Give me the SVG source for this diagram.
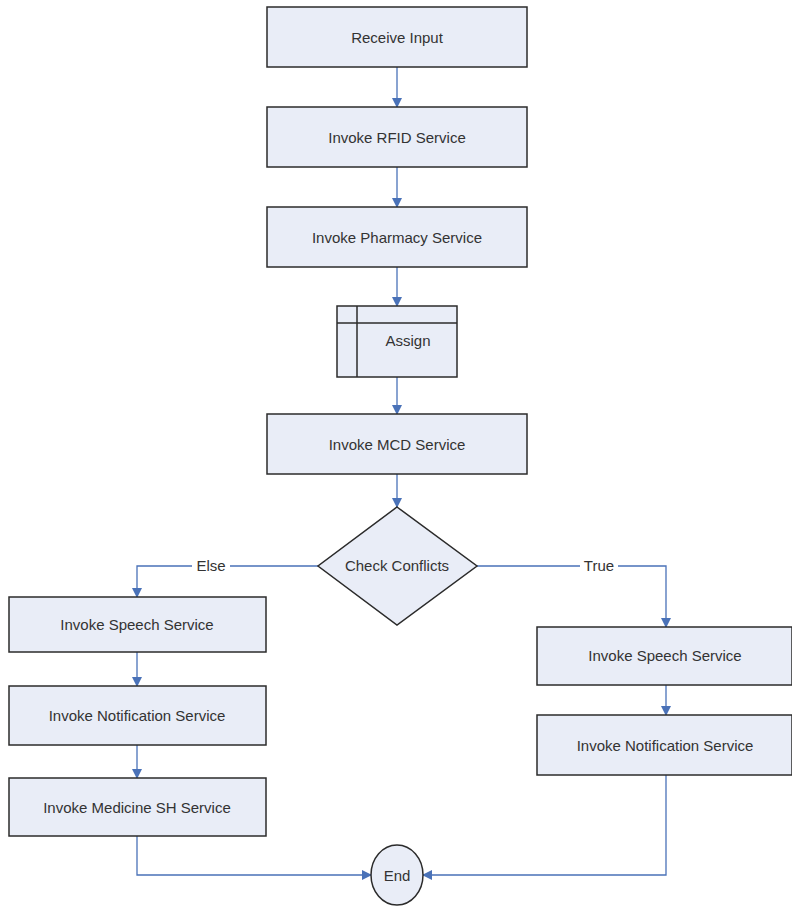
<svg xmlns="http://www.w3.org/2000/svg" width="792" height="906" viewBox="0 0 792 906">
<defs>
<marker id="ah" markerWidth="10" markerHeight="10" refX="9" refY="5" orient="auto" markerUnits="userSpaceOnUse">
<path d="M0,0 L10,5 L0,10 z" fill="#4a72b8"/>
</marker>
<style>
.box{fill:#e9edf7;stroke:#2b2b2b;stroke-width:1.5}
.t{font-family:"Liberation Sans",Arial,sans-serif;font-size:15px;fill:#333;text-anchor:middle;dominant-baseline:central}
.c{fill:none;stroke:#4a72b8;stroke-width:1.3;marker-end:url(#ah)}
.lbl{fill:#fff}
</style>
</defs>
<rect width="792" height="906" fill="#fff"/>
<g id="connectors">
<path class="c" d="M397,67 V107"/>
<path class="c" d="M397,167 V207"/>
<path class="c" d="M397,267 V306"/>
<path class="c" d="M397,377 V414"/>
<path class="c" d="M397,474 V507"/>
<path class="c" d="M318,566 H137 V597"/>
<path class="c" d="M477,566 H666 V627"/>
<path class="c" d="M137,652 V686"/>
<path class="c" d="M137,745 V778"/>
<path class="c" d="M666,685 V715"/>
<path class="c" d="M137,836 V875 H371"/>
<path class="c" d="M666,775 V875 H423"/>
<rect class="lbl" x="192" y="557" width="38" height="16"/>
<text class="t" x="211" y="565">Else</text>
<rect class="lbl" x="580" y="557" width="38" height="16"/>
<text class="t" x="599" y="565">True</text>
</g>
<g id="receive"><rect class="box" x="267" y="7" width="260" height="60"/><text class="t" x="397" y="37">Receive Input</text></g>
<g id="rfid"><rect class="box" x="267" y="107" width="260" height="60"/><text class="t" x="397" y="137">Invoke RFID Service</text></g>
<g id="pharmacy"><rect class="box" x="267" y="207" width="260" height="60"/><text class="t" x="397" y="237">Invoke Pharmacy Service</text></g>
<g id="assign"><rect class="box" x="337" y="306" width="120" height="71"/><line x1="337" y1="323" x2="457" y2="323" stroke="#2b2b2b" stroke-width="1.5"/><line x1="357" y1="306" x2="357" y2="377" stroke="#2b2b2b" stroke-width="1.5"/><text class="t" x="408" y="340">Assign</text></g>
<g id="mcd"><rect class="box" x="267" y="414" width="260" height="60"/><text class="t" x="397" y="444">Invoke MCD Service</text></g>
<g id="check"><polygon class="box" points="397,507 477,566 397,625 318,566"/><text class="t" x="397" y="565">Check Conflicts</text></g>
<g id="speechL"><rect class="box" x="9" y="597" width="257" height="55"/><text class="t" x="137" y="624">Invoke Speech Service</text></g>
<g id="notifL"><rect class="box" x="9" y="686" width="257" height="59"/><text class="t" x="137" y="715">Invoke Notification Service</text></g>
<g id="medicine"><rect class="box" x="9" y="778" width="257" height="58"/><text class="t" x="137" y="807">Invoke Medicine SH Service</text></g>
<g id="speechR"><rect class="box" x="537" y="627" width="255" height="58"/><text class="t" x="665" y="655">Invoke Speech Service</text></g>
<g id="notifR"><rect class="box" x="537" y="715" width="255" height="60"/><text class="t" x="665" y="745">Invoke Notification Service</text></g>
<g id="end"><ellipse class="box" cx="397" cy="875" rx="26" ry="30"/><text class="t" x="397" y="875">End</text></g>
</svg>
